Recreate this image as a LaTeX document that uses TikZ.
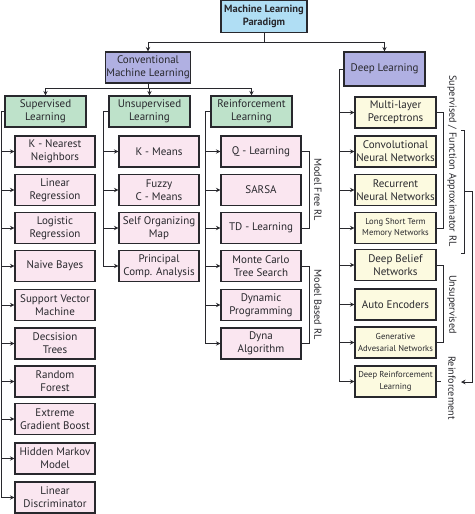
\documentclass[tikz,border=0pt]{standalone}
\usepackage{fontspec}
\setmainfont{PT Sans}
\usetikzlibrary{arrows.meta,positioning,calc}
\definecolor{ink}{RGB}{40,40,45}
\definecolor{sky}{RGB}{176,222,244}
\definecolor{lilac}{RGB}{176,176,226}
\definecolor{mint}{RGB}{190,226,202}
\definecolor{blush}{RGB}{250,230,240}
\definecolor{cream}{RGB}{252,250,224}
\tikzset{
  >={Stealth[length=4.5pt,width=4.5pt]},
  box/.style={draw=ink,fill=#1,line width=1.1pt,minimum width=80pt,minimum height=31pt,
    inner xsep=1pt,inner ysep=1pt,align=center,text=ink,font=\fontsize{11}{13}\selectfont},
  box/.default=blush,
  small box/.style={box=#1,font=\fontsize{8.6}{11.5}\selectfont},
  small box/.default=cream,
  flow/.style={->,line width=0.7pt,draw=ink},
  bracket/.style={line width=0.7pt,draw=ink},
  tag/.style={font=\fontsize{10.2}{12}\selectfont,text=ink,rotate=-90,inner sep=0pt},
}
\begin{document}
\begin{tikzpicture}[x=1pt,y=-1pt]
    \useasboundingbox[fill=white] (0,0) rectangle (474,514);
    \node[box=sky,minimum width=86pt,minimum height=32pt,font=\fontsize{10.5}{12.5}\selectfont\bfseries] (ml) at (264,16.5) {Machine Learning\\Paradigm};
    \node[box=lilac] (cml) at (148,67.5) {Conventional\\Machine Learning};
    \node[box=lilac,minimum width=81pt,minimum height=34pt] (dl) at (384.5,69) {Deep Learning};
    \draw[flow] (ml.south) -- ++(0,9) -| (cml.north);
    \draw[flow] (ml.south) -- ++(0,9) -| (dl.north);
    \node[box=mint,minimum width=81pt] (sl) at (45.5,111.5) {Supervised\\Learning};
    \node[box=mint,minimum width=81pt] (ul) at (149.5,111.5) {Unsupervised\\Learning};
    \node[box=mint,minimum width=81pt] (rl) at (251.5,111.5) {Reinforcement\\Learning};
    \foreach \n in {sl,ul,rl} \draw[flow] (cml.south) -- ++(0,5) -| (\n.north);
    \node[box] (knn) at (55,151.5) {K - Nearest\\Neighbors};
    \node[box] (lin) at (55,190) {Linear\\Regression};
    \node[box] (log) at (55,228) {Logistic\\Regression};
    \node[box] (nb) at (55,266) {Naive Bayes};
    \node[box] (svm) at (55,305) {Support Vector\\Machine};
    \node[box] (dt) at (55,343.5) {Decsision\\Trees};
    \node[box] (rf) at (55,381.5) {Random\\Forest};
    \node[box] (xgb) at (55,419) {Extreme\\Gradient Boost};
    \node[box] (hmm) at (55,458.5) {Hidden Markov\\Model};
    \node[box] (lda) at (55,497.5) {Linear\\Discriminator};
    \foreach \n in {knn,lin,log,nb,svm,dt,rf,xgb,hmm,lda} \draw[flow] (sl.west) -- ++(-3,0) |- (\n.west);
    \node[box] (km) at (159,151.5) {K - Means};
    \node[box] (fcm) at (159,190) {Fuzzy\\C - Means};
    \node[box] (som) at (159,228) {Self Organizing\\Map};
    \node[box] (pca) at (159,266) {Principal\\Comp. Analysis};
    \foreach \n in {km,fcm,som,pca} \draw[flow] (ul.west) -- ++(-5,0) |- (\n.west);
    \node[box] (ql) at (261,151.5) {Q - Learning};
    \node[box] (sarsa) at (261,190) {SARSA};
    \node[box] (td) at (261,228) {TD - Learning};
    \node[box] (mcts) at (261,266) {Monte Carlo\\Tree Search};
    \node[box] (dp) at (261,305) {Dynamic\\Programming};
    \node[box] (dyna) at (261,343.5) {Dyna\\Algorithm};
    \foreach \n in {ql,sarsa,td,mcts,dp,dyna} \draw[flow] (rl.west) -- ++(-5,0) |- (\n.west);
    \draw[bracket] (ql.east) -- ++(8,0) |- (td.east);
    \draw[bracket] (mcts.east) -- ++(8,0) |- (dyna.east);
    \node[tag] (mf) at (318,189.5) {Model Free RL};
    \node[tag] (mb) at (318,304.5) {Model Based RL};
    \node[box=cream,minimum width=81pt] (mlp) at (395.5,112.5) {Multi-layer\\Perceptrons};
    \node[box=cream,minimum width=81pt] (cnn) at (395.5,151.5) {Convolutional\\Neural Networks};
    \node[box=cream,minimum width=81pt] (rnn) at (395.5,190) {Recurrent\\Neural Networks};
    \node[small box,minimum width=81pt] (lstm) at (395.5,228) {Long Short Term\\Memory Networks};
    \node[box=cream,minimum width=81pt] (dbn) at (395.5,265) {Deep Belief\\Networks};
    \node[box=cream,minimum width=81pt] (ae) at (395.5,304.5) {Auto Encoders};
    \node[small box,minimum width=81pt] (gan) at (395.5,342.5) {Generative\\Advesarial Networks};
    \node[small box,minimum width=81pt] (drl) at (395.5,381.5) {Deep Reinforcement\\Learning};
    \foreach \n in {mlp,cnn,rnn,lstm,dbn,ae,gan,drl} \draw[flow] (dl.west) -- ++(-4,0) |- (\n.west);
    \draw[bracket] (mlp.east) -- ++(7,0) |- (lstm.east);
    \draw[bracket] (dbn.east) -- ++(7,0) |- (gan.east);
    \draw[bracket] (drl.east) -- ++(4,0);
    \node[tag] (sup) at (452,161) {Supervised / Function Approximator RL};
    \node[tag] (uns) at (452,304.5) {Unsupervised};
    \node[tag] (rei) at (452,388) {Reinforcement};
    \coordinate (bt) at (464,130);
    \coordinate (bb) at (464,253);
    \coordinate (bm) at (472.5,191.5);
    \coordinate (ba) at (461,382);
    \draw[bracket] ($(bt)+(-3,0)$) -- (bt) -- (bb) -- ++(-3,0);
    \draw[bracket] ($(bt)!0.5!(bb)$) -- (bm);
    \draw[flow] (bm) |- (ba);
\end{tikzpicture}
\end{document}
